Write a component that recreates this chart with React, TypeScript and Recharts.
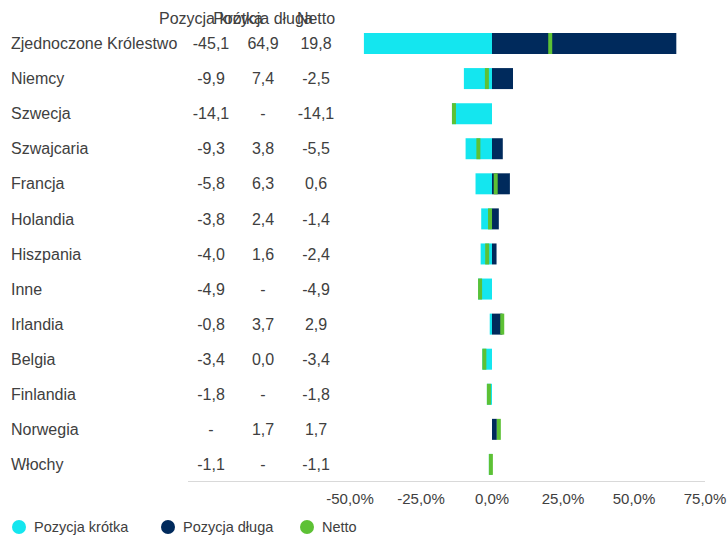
import { BarChart, Bar, XAxis, YAxis, Legend } from "recharts";

const countries = [
  "Zjednoczone Królestwo",
  "Niemcy",
  "Szwecja",
  "Szwajcaria",
  "Francja",
  "Holandia",
  "Hiszpania",
  "Inne",
  "Irlandia",
  "Belgia",
  "Finlandia",
  "Norwegia",
  "Włochy",
];
const shortPos = [-45.1, -9.9, -14.1, -9.3, -5.8, -3.8, -4.0, -4.9, -0.8, -3.4, -1.8, null, -1.1];
const longPos = [64.9, 7.4, null, 3.8, 6.3, 2.4, 1.6, null, 3.7, 0.0, null, 1.7, null];
const netPos = [19.8, -2.5, -14.1, -5.5, 0.6, -1.4, -2.4, -4.9, 2.9, -3.4, -1.8, 1.7, -1.1];
const xTicks = [-50, -25, 0, 25, 50, 75];

const SHORT_COLOR = "#14E6EF";
const LONG_COLOR = "#002A5C";
const NET_COLOR = "#5DC135";
const TEXT = "#404040";
const FONT = "'Liberation Sans', Arial, sans-serif";

const data = countries.map((country, i) => ({
  country,
  short: shortPos[i],
  long: longPos[i],
  net: netPos[i],
}));

const fmt = (v: number | null) => (v == null ? "-" : v.toFixed(1).replace(".", ","));

// columns of the little table left of the bars
const COL_X = [211, 263, 316];

function RowTick(props: any) {
  const { y, payload, index } = props;
  const row = data[index];
  return (
    <g fontFamily={FONT} fontSize={16} fill={TEXT}>
      {index === 0 && (
        <>
          <text x={COL_X[0]} y={y - 25} textAnchor="middle" dy="0.35em">Pozycja krótka</text>
          <text x={COL_X[1]} y={y - 25} textAnchor="middle" dy="0.35em">Pozycja długa</text>
          <text x={COL_X[2]} y={y - 25} textAnchor="middle" dy="0.35em">Netto</text>
        </>
      )}
      <text x={11} y={y} dy="0.35em">{payload.value}</text>
      <text x={COL_X[0]} y={y} textAnchor="middle" dy="0.35em">{fmt(row.short)}</text>
      <text x={COL_X[1]} y={y} textAnchor="middle" dy="0.35em">{fmt(row.long)}</text>
      <text x={COL_X[2]} y={y} textAnchor="middle" dy="0.35em">{fmt(row.net)}</text>
    </g>
  );
}

// netto is shown as a thin marker starting at the net value
function NetMarker(props: any) {
  const { x, y, width, height, payload } = props;
  if (payload.net == null) return null;
  const end = payload.net >= 0 ? x + width : Math.min(x, x + width);
  return <rect x={end} y={y} width={4} height={height} fill={NET_COLOR} />;
}

const legendItems = [
  { label: "Pozycja krótka", color: SHORT_COLOR, x: 12 },
  { label: "Pozycja długa", color: LONG_COLOR, x: 161 },
  { label: "Netto", color: NET_COLOR, x: 300 },
];

function LegendContent() {
  return (
    <div style={{ position: "relative", height: 18, width: 728, fontFamily: FONT, fontSize: 14.5, color: TEXT }}>
      {legendItems.map((it) => (
        <div key={it.label} style={{ position: "absolute", left: it.x, top: 1, height: 18, display: "flex", alignItems: "center" }}>
          <span style={{ width: 14, height: 14, borderRadius: "50%", background: it.color, display: "inline-block", marginRight: 8 }} />
          <span>{it.label}</span>
        </div>
      ))}
    </div>
  );
}

export default function App() {
  return (
    <div style={{ position: "absolute", left: 0, top: 0, width: 728, height: 535, background: "#fff" }}>
      <BarChart
        width={728}
        height={535}
        data={data}
        layout="vertical"
        margin={{ top: 26, right: 23, left: 0, bottom: 0 }}
        barGap={-21}
      >
        <XAxis
          type="number"
          domain={[-50, 75]}
          ticks={xTicks}
          height={35}
          axisLine={false}
          tickLine={false}
          tickMargin={5}
          tickFormatter={(v: number) => `${v.toFixed(1).replace(".", ",")}%`}
          tick={{ fill: TEXT, fontSize: 15, fontFamily: FONT }}
        />
        <YAxis
          type="category"
          dataKey="country"
          width={350}
          axisLine={false}
          tickLine={false}
          interval={0}
          tick={<RowTick />}
        />
        <Bar dataKey="short" name="Pozycja krótka" fill={SHORT_COLOR} barSize={21} isAnimationActive={false} />
        <Bar dataKey="long" name="Pozycja długa" fill={LONG_COLOR} barSize={21} isAnimationActive={false} />
        <Bar dataKey="net" name="Netto" fill={NET_COLOR} barSize={21} shape={<NetMarker />} isAnimationActive={false} />
        <Legend content={<LegendContent />} wrapperStyle={{ left: 0, bottom: 0 }} />
      </BarChart>
      <div style={{ position: "absolute", left: 188, top: 481, width: 517, height: 1, background: "#D9D9D9" }} />
    </div>
  );
}
